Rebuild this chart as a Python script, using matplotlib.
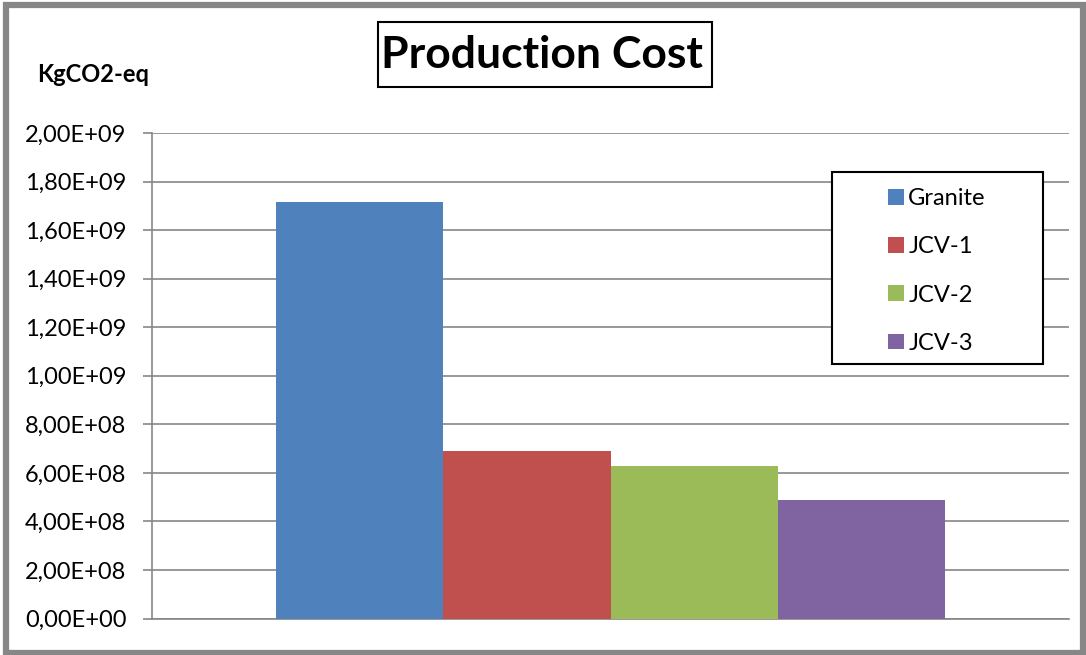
import matplotlib
matplotlib.use("Agg")
import matplotlib.pyplot as plt
from matplotlib.patches import Rectangle
from matplotlib.ticker import FuncFormatter, MultipleLocator

plt.rcParams["font.family"] = ["Lato", "DejaVu Sans"]

# Data
series = ["Granite", "JCV-1", "JCV-2", "JCV-3"]
values = [1.715e9, 6.91e8, 6.30e8, 4.90e8]
colors = ["#4F81BD", "#C0504D", "#9BBB59", "#8064A2"]

title = "Production Cost"
unit_label = "KgCO2-eq"

W, H = 1086, 655
fig = plt.figure(figsize=(W / 100, H / 100), dpi=100)
fig.patch.set_facecolor("white")

# plot area in pixels: x 152..1069, y 133..618.5
ax = fig.add_axes([152 / W, 1 - 618.5 / H, 917 / W, 485.5 / H])

grid_grey = "#868686"
bar_w = 0.7285 / len(series)
for i, (name, val, col) in enumerate(zip(series, values, colors)):
    ax.bar((i - (len(series) - 1) / 2) * bar_w, val, width=bar_w,
           color=col, label=name, zorder=3)

ax.set_xlim(-0.5, 0.5)
ax.set_ylim(0, 2e9)
ax.yaxis.set_major_locator(MultipleLocator(2e8))
ax.yaxis.set_major_formatter(
    FuncFormatter(lambda v, _: f"{v:.2E}".replace(".", ",")))
ax.set_xticks([])
ax.tick_params(axis="y", direction="out", length=6.5, width=1.2,
               color=grid_grey, pad=12, labelsize=17, labelcolor="black")
ax.grid(axis="y", color=grid_grey, linewidth=1.2, zorder=0)
for side in ["top", "right"]:
    ax.spines[side].set_visible(False)
for side in ["left", "bottom"]:
    ax.spines[side].set_color(grid_grey)
    ax.spines[side].set_linewidth(1.2)

# unit label at top-left
fig.text(37 / W, 1 - 75 / H, unit_label, fontsize=17, fontweight="bold",
         ha="left", va="center")

# title with its box
fig.patches.append(Rectangle((378 / W, 1 - 87 / H), (712 - 378) / W, 65 / H,
                             transform=fig.transFigure, facecolor="white",
                             edgecolor="black", linewidth=1.5))
fig.text(542 / W, 1 - 55 / H, title, fontsize=32, fontweight="bold",
         ha="center", va="center")

# legend, frame drawn separately to match the box size
fig.patches.append(Rectangle((832 / W, 1 - 364 / H), (1043 - 832) / W,
                             (364 - 172) / H, transform=fig.transFigure,
                             facecolor="white", edgecolor="black",
                             linewidth=1.5, zorder=4))
handles, labels = ax.get_legend_handles_labels()
leg = fig.legend(handles, labels, loc="center",
                 bbox_to_anchor=(937 / W, 1 - 271 / H),
                 frameon=False, fontsize=17,
                 handlelength=0.65, handleheight=0.65, handletextpad=0.2,
                 labelspacing=1.15)
leg.set_zorder(5)

# outer grey frame
fig.patches.append(Rectangle((6 / W, 2.5 / H), (1083 - 6) / W, (650 - 2.5) / H,
                             transform=fig.transFigure, facecolor="none",
                             edgecolor="#878787", linewidth=4.5))

fig.savefig("out.png", dpi=100)
